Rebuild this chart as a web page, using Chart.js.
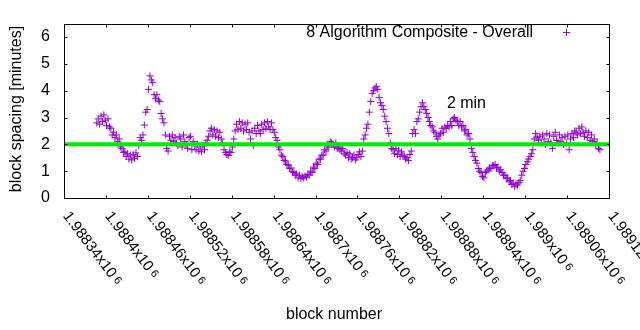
<!DOCTYPE html>
<html>
<head>
<meta charset="utf-8">
<script src="https://cdn.jsdelivr.net/npm/chart.js@4/dist/chart.umd.min.js"></script>
<style>
  html, body { margin: 0; padding: 0; background: #fff; }
  canvas { display: block; }
</style>
</head>
<body>
<canvas id="chart" width="640" height="330"></canvas>
<script>
// Block spacing (minutes), one sample every `blockStep` blocks from `firstBlock`
const firstBlock = 1988387;
const blockStep = 2;
const spacing = [
  2.80, 2.95, 2.75, 3.05, 2.85, 3.10, 2.90, 2.70, 2.95, 2.65,
  2.60, 2.35, 2.45, 2.25, 2.35, 2.10, 2.20, 1.90, 1.85, 1.70,
  1.72, 1.55, 1.65, 1.45, 1.60, 1.42, 1.62, 1.48, 1.68, 1.55,
  1.95, 2.25, 2.15, 2.35, 2.72, 3.20, 3.30, 4.05, 4.55, 4.40,
  4.30, 3.85, 3.70, 3.85, 3.65, 3.60, 3.15, 2.95, 2.80, 2.35,
  1.85, 1.75, 2.30, 2.15, 2.35, 2.10, 2.25, 2.05, 1.95, 2.30,
  2.20, 1.90, 2.35, 2.10, 2.00, 1.85, 2.25, 2.30, 1.80, 2.10,
  1.95, 1.80, 2.00, 1.75, 1.90, 1.72, 1.95, 1.80, 2.05, 2.15,
  2.30, 2.50, 2.60, 2.35, 2.55, 2.30, 2.50, 2.25, 2.45, 2.20,
  2.05, 1.80, 1.70, 1.62, 1.58, 1.72, 1.70, 1.90, 2.20, 2.50,
  2.75, 2.55, 2.85, 2.60, 2.80, 2.50, 2.75, 2.55, 2.80, 2.45,
  2.20, 2.50, 1.95, 2.60, 2.40, 2.70, 2.50, 2.40, 2.75, 2.55,
  2.80, 2.60, 2.85, 2.65, 2.55, 2.80, 2.55, 2.45, 2.25, 2.15,
  1.90, 1.80, 1.60, 1.55, 1.40, 1.38, 1.25, 1.22, 1.10, 1.12,
  0.98, 0.95, 0.85, 0.90, 0.75, 0.85, 0.72, 0.80, 0.75, 0.82,
  0.78, 0.88, 0.85, 1.00, 0.95, 1.15, 1.10, 1.30, 1.25, 1.45,
  1.45, 1.60, 1.60, 1.80, 1.75, 1.95, 1.90, 2.10, 2.05, 2.00,
  1.90, 2.05, 1.85, 1.90, 1.80, 1.75, 1.85, 1.65, 1.60, 1.70,
  1.50, 1.65, 1.45, 1.50, 1.60, 1.42, 1.50, 1.62, 1.72, 1.55,
  1.75, 2.20, 2.35, 2.60, 2.75, 3.20, 3.60, 3.90, 4.00, 4.10,
  4.15, 4.05, 3.75, 3.55, 3.45, 3.30, 3.05, 2.85, 2.60, 2.40,
  2.05, 1.85, 1.80, 1.65, 1.85, 1.62, 1.78, 1.55, 1.72, 1.60,
  1.55, 1.45, 1.50, 1.40, 1.62, 1.75, 2.40, 2.55, 2.40, 2.85,
  2.95, 3.20, 3.40, 3.55, 3.40, 3.30, 3.15, 3.00, 2.85, 2.70,
  2.65, 2.50, 2.45, 2.30, 2.20, 2.35, 2.40, 2.60, 2.45, 2.65,
  2.60, 2.70, 2.65, 2.85, 2.70, 2.95, 3.00, 2.90, 2.85, 2.70,
  2.85, 2.65, 2.70, 2.50, 2.55, 2.35, 2.40, 2.20, 1.85, 1.70,
  1.55, 1.40, 1.30, 1.10, 1.00, 0.95, 0.80, 0.75, 0.95, 1.00,
  1.05, 1.12, 1.10, 1.22, 1.20, 1.25, 1.12, 1.15, 1.00, 1.05,
  0.95, 0.85, 0.85, 0.72, 0.75, 0.60, 0.65, 0.50, 0.55, 0.42,
  0.52, 0.48, 0.58, 0.65, 0.85, 1.00, 1.10, 1.25, 1.35, 1.45,
  1.55, 1.65, 1.80, 2.20, 2.40, 2.25, 2.15, 2.30, 2.05, 2.35,
  2.20, 2.00, 2.40, 2.10, 2.35, 2.05, 1.85, 2.30, 2.45, 2.15,
  2.05, 2.35, 2.10, 2.25, 2.00, 2.30, 2.05, 2.35, 1.80, 2.20,
  2.40, 2.25, 2.50, 2.45, 2.35, 2.60, 2.40, 2.65, 2.45, 2.30,
  2.50, 2.25, 2.45, 2.15, 2.35, 2.10, 2.20, 2.00, 2.05, 1.85,
  1.80
];

// Target block spacing
const targetSpacing = 2;
const targetLabel = '2 min';
const targetLabelAt = { x: 1988888, y: 3.5 };

// Axis range and ticks
const xMin = 1988340, xMax = 1989120;
const xTicks = [1988340, 1988400, 1988460, 1988520, 1988580, 1988640, 1988700,
                1988760, 1988820, 1988880, 1988940, 1989000, 1989060, 1989120];
const xTickMantissa = ['1.98834', '1.9884', '1.98846', '1.98852', '1.98858', '1.98864', '1.9887',
                       '1.98876', '1.98882', '1.98888', '1.98894', '1.989', '1.98906', '1.98912'];
const xTickExponent = '6';
const yMin = 0, yMax = 6.5;
const yTicks = [0, 1, 2, 3, 4, 5, 6];

const seriesLabel = '8 Algorithm Composite - Overall';
const xTitle = 'block number';
const yTitle = 'block spacing [minutes]';

const FONT = '"Liberation Sans", Arial, sans-serif';
const PURPLE = '#9400d3';
const GREEN = '#00ee00';

const points = spacing.map((v, i) => ({ x: firstBlock + i * blockStep, y: v }));

// Frame, inward ticks, rotated x labels, key and annotations
const decorations = {
  id: 'decorations',
  afterDraw(chart) {
    const { ctx, chartArea: a, scales: { x, y } } = chart;
    ctx.save();
    ctx.strokeStyle = '#000';
    ctx.lineWidth = 1;
    const L = Math.round(a.left) + 0.5, R = Math.round(a.right) + 0.5;
    const T = Math.round(a.top) + 0.5, B = Math.round(a.bottom) + 0.5;
    ctx.beginPath();
    ctx.rect(L, T, R - L, B - T);
    const tl = 3;
    xTicks.forEach(v => {
      const px = Math.round(x.getPixelForValue(v)) + 0.5;
      ctx.moveTo(px, B); ctx.lineTo(px, B - tl);
      ctx.moveTo(px, T); ctx.lineTo(px, T + tl);
    });
    yTicks.forEach(v => {
      const py = Math.round(y.getPixelForValue(v)) + 0.5;
      ctx.moveTo(L, py); ctx.lineTo(L + tl, py);
      ctx.moveTo(R, py); ctx.lineTo(R - tl, py);
    });
    ctx.stroke();

    ctx.fillStyle = '#000';
    // rotated x tick labels
    const ang = 53 * Math.PI / 180;
    xTicks.forEach((v, i) => {
      const px = x.getPixelForValue(v);
      ctx.save();
      ctx.translate(px - 1.5, a.bottom + 18);
      ctx.rotate(ang);
      ctx.font = '15px ' + FONT;
      ctx.textAlign = 'left';
      ctx.textBaseline = 'alphabetic';
      const main = xTickMantissa[i] + 'x10';
      ctx.fillText(main, 0, 0);
      const w = ctx.measureText(main + ' ').width;
      ctx.font = '11px ' + FONT;
      ctx.fillText(xTickExponent, w - 1, -2);
      ctx.restore();
    });

    // axis titles
    ctx.font = '16px ' + FONT;
    ctx.textAlign = 'center';
    ctx.textBaseline = 'middle';
    ctx.fillText(xTitle, 334, 315);
    ctx.save();
    ctx.translate(17, 109);
    ctx.rotate(-Math.PI / 2);
    ctx.fillText(yTitle, 0, 0);
    ctx.restore();

    // key
    ctx.textAlign = 'right';
    ctx.textBaseline = 'alphabetic';
    ctx.fillText(seriesLabel, 533, 36.5);
    ctx.strokeStyle = PURPLE;
    ctx.beginPath();
    ctx.moveTo(563, 32.5); ctx.lineTo(570, 32.5);
    ctx.moveTo(566.5, 29); ctx.lineTo(566.5, 36);
    ctx.stroke();

    // target label
    ctx.textAlign = 'left';
    ctx.textBaseline = 'middle';
    ctx.fillText(targetLabel, x.getPixelForValue(targetLabelAt.x), y.getPixelForValue(targetLabelAt.y));
    ctx.restore();
  }
};

new Chart(document.getElementById('chart'), {
  type: 'scatter',
  data: {
    datasets: [
      {
        type: 'line',
        label: targetLabel,
        data: [{ x: xMin, y: targetSpacing }, { x: xMax, y: targetSpacing }],
        borderColor: GREEN,
        borderWidth: 4,
        pointRadius: 0,
        fill: false
      },
      {
        label: seriesLabel,
        data: points,
        pointStyle: 'cross',
        pointRadius: 3.5,
        pointBorderWidth: 1,
        borderColor: PURPLE,
        backgroundColor: PURPLE,
        showLine: false
      }
    ]
  },
  options: {
    responsive: false,
    animation: false,
    devicePixelRatio: 1,
    layout: { padding: { top: 19, right: 31, left: 0, bottom: 0 } },
    plugins: { legend: { display: false }, tooltip: { enabled: false } },
    scales: {
      x: {
        type: 'linear',
        min: xMin, max: xMax,
        grid: { display: false, drawTicks: false },
        border: { display: false },
        ticks: { display: false, stepSize: 60 },
        afterFit(s) { s.height = 132; }
      },
      y: {
        min: yMin, max: yMax,
        grid: { display: false, drawTicks: false },
        border: { display: false },
        afterBuildTicks(s) { s.ticks = yTicks.map(v => ({ value: v })); },
        ticks: {
          padding: 14,
          color: '#000',
          font: { family: FONT, size: 16 },
          callback: v => String(v)
        },
        afterFit(s) { s.width = 64; }
      }
    }
  },
  plugins: [decorations]
});
</script>
</body>
</html>
